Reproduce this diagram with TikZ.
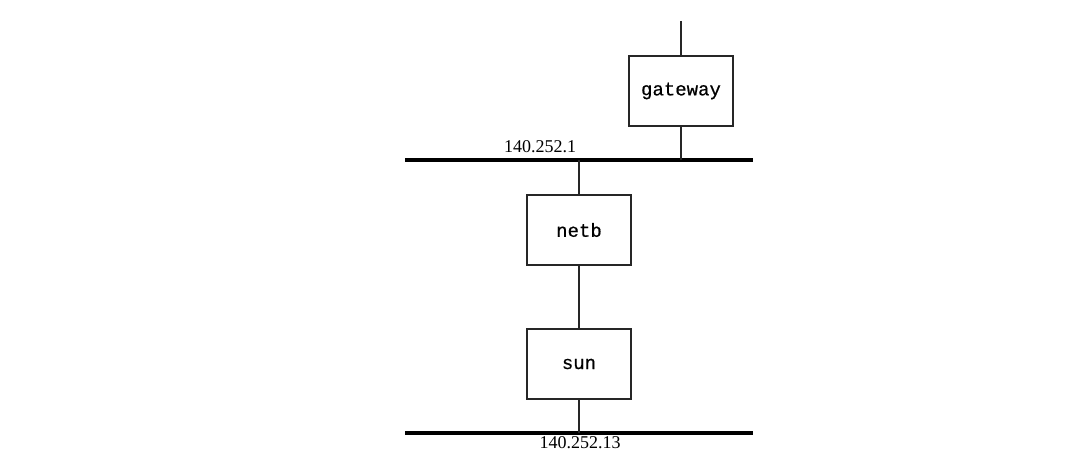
\documentclass[tikz,border=0pt]{standalone}
\usepackage{fontspec}
\setmainfont{Liberation Serif}
\newfontfamily\hostfont[FakeBold=0.6]{Liberation Mono}
\begin{document}
\begin{tikzpicture}[x=1pt,y=-1pt,
  host/.style={draw=black!85,line width=1.4pt,minimum width=104pt,minimum height=70pt,inner sep=0pt,font=\hostfont\fontsize{19}{19}\selectfont},
  link/.style={draw=black!85,line width=1.4pt},
  bus/.style={draw=black,line width=4pt},
  netlabel/.style={font=\fontsize{18}{18}\selectfont,inner sep=0pt}]
\useasboundingbox (0,0) rectangle (1088,462);
\node[host] (gw) at (681,91) {gateway};
\node[host] (netb) at (579,230) {netb};
\node[host] (sun) at (579,364) {sun};
\coordinate (top) at (681,21);
\coordinate (b1l) at (405,160);
\coordinate (b1r) at (753,160);
\coordinate (b2l) at (405,433);
\coordinate (b2r) at (753,433);
\coordinate (gwb) at (681,160);
\coordinate (nb1) at (579,160);
\coordinate (sb2) at (579,433);
\draw[bus] (b1l) -- (b1r);
\draw[bus] (b2l) -- (b2r);
\draw[link] (top) -- (gw.north);
\draw[link] (gw.south) -- (gwb);
\draw[link] (nb1) -- (netb.north);
\draw[link] (netb.south) -- (sun.north);
\draw[link] (sun.south) -- (sb2);
\node[netlabel,anchor=base] (l1) at (540,153) {140.252.1};
\node[netlabel,anchor=base] (l2) at (580,449) {140.252.13};
\end{tikzpicture}
\end{document}
